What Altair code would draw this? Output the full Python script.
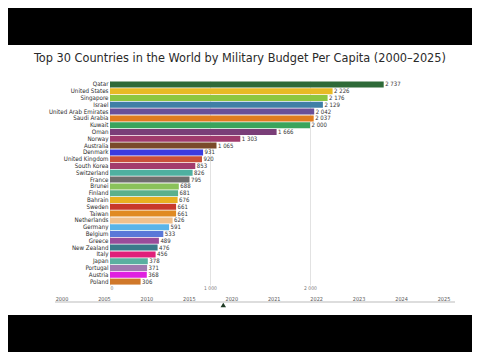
import altair as alt
import pandas as pd

countries = ["Qatar", "United States", "Singapore", "Israel", "United Arab Emirates",
             "Saudi Arabia", "Kuwait", "Oman", "Norway", "Australia", "Denmark",
             "United Kingdom", "South Korea", "Switzerland", "France", "Brunei",
             "Finland", "Bahrain", "Sweden", "Taiwan", "Netherlands", "Germany",
             "Belgium", "Greece", "New Zealand", "Italy", "Japan", "Portugal",
             "Austria", "Poland"]
values = [2737, 2226, 2176, 2129, 2042, 2037, 2000, 1666, 1303, 1065, 931, 920,
          853, 826, 795, 688, 681, 676, 661, 661, 626, 591, 533, 489, 476, 456,
          378, 371, 368, 306]
colors = ["#2e6a38", "#e8ba25", "#8dc640", "#3f7fa6", "#6a4f98", "#e07c1f",
          "#3aa45c", "#7a3e78", "#a03a6c", "#7a4a2a", "#3b3be0", "#c9503a",
          "#a33c6c", "#4fb0a0", "#6e6e6e", "#8ac25a", "#5bb08c", "#e8b020",
          "#c8382a", "#e08a22", "#f0c08c", "#5ab4e8", "#5a78d8", "#9a4c9a",
          "#3a7a8a", "#e0207a", "#5ab0a0", "#a07ab0", "#e020e0", "#d0782a"]
timeline_years = ["2000", "2005", "2010", "2015", "2020", "2021", "2022", "2023", "2024", "2025"]
current_year = 2019
axis_ticks = [0, 1000, 2000]
title_text = "Top 30 Countries in the World by Military Budget Per Capita (2000–2025)"

df = pd.DataFrame({"country": countries, "value": values, "color": colors})
df["label"] = [f"{v:,}".replace(",", " ") for v in values]

tl = pd.DataFrame({"year": timeline_years, "idx": list(range(len(timeline_years)))})
marker = pd.DataFrame({"idx": [3 + (current_year - 2015) / 5]})

FONT = "DejaVu Sans Condensed, Roboto"
TFONT = "DejaVu Sans Condensed, Roboto"

xscale = alt.Scale(domain=[0, 3400])

bars = alt.Chart(df).mark_bar().encode(
    x=alt.X("value:Q", scale=xscale,
            axis=alt.Axis(values=axis_ticks, title=None, domain=False, ticks=False,
                          grid=True, gridColor="#e2e2e2", labelFontSize=5,
                          labelColor="#777", labelPadding=0, labelFont=FONT,
                          labelExpr="replace(format(datum.value, ','), ',', ' ')")),
    y=alt.Y("country:N", sort=countries, scale=alt.Scale(paddingInner=0.12),
            axis=alt.Axis(title=None, domain=False, ticks=False, labelPadding=2,
                          labelFontSize=6.2, labelColor="#2a2a2a", labelFont=FONT)),
    color=alt.Color("color:N", scale=None),
)
labels = alt.Chart(df).mark_text(align="left", baseline="middle", dx=1.5,
                                 fontSize=6, color="#333", font=FONT).encode(
    x=alt.X("value:Q", scale=xscale),
    y=alt.Y("country:N", sort=countries),
    text="label:N",
)
bar_layer = alt.layer(bars, labels)

one = pd.DataFrame({"a": [0]})
band_top = alt.Chart(one).mark_rect(color="black").encode(
    x=alt.value(-102), x2=alt.value(362), y=alt.value(-73), y2=alt.value(-36))
band_bot = alt.Chart(one).mark_rect(color="black").encode(
    x=alt.value(-102), x2=alt.value(362), y=alt.value(234), y2=alt.value(271))
title = alt.Chart(pd.DataFrame({"t": [title_text]})).mark_text(
    font=TFONT, fontSize=12.6, color="#2a2a2a", baseline="middle", align="center").encode(
    x=alt.value(130), y=alt.value(-23), text="t:N")

tscale = alt.Scale(domain=[0, 9], range=[-48, 334])
tline = alt.Chart(one).mark_rule(color="#bbbbbb", strokeWidth=1).encode(
    x=alt.value(-55), x2=alt.value(345), y=alt.value(221))
ttext = alt.Chart(tl).mark_text(fontSize=5.5, color="#555", font=FONT, baseline="middle").encode(
    x=alt.X("idx:Q", scale=tscale, axis=None), y=alt.value(217.5), text="year:N")
tmark = alt.Chart(marker).mark_point(shape="triangle-up", filled=True, size=30,
                                     color="#1f3a24", opacity=1).encode(
    x=alt.X("idx:Q", scale=tscale, axis=None), y=alt.value(224))
time_layer = alt.layer(ttext, tmark)

chart = alt.layer(band_top, band_bot, title, bar_layer, tline, time_layer).resolve_scale(
    x="independent").properties(
    width=340, height=204,
    autosize=alt.AutoSizeParams(type="none"),
    padding={"left": 102, "top": 73, "right": 22, "bottom": 67},
).configure(background="white").configure_view(stroke=None)

chart.save("out.html", embed_options={"renderer": "svg", "actions": False})
